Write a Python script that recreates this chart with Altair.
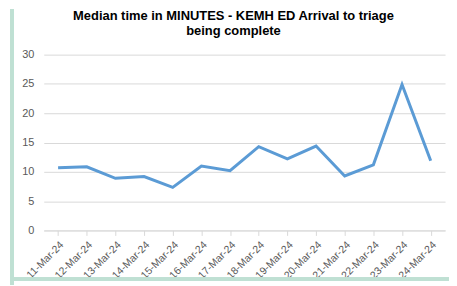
import altair as alt
import pandas as pd

dates = ["11-Mar-24", "12-Mar-24", "13-Mar-24", "14-Mar-24", "15-Mar-24", "16-Mar-24", "17-Mar-24",
         "18-Mar-24", "19-Mar-24", "20-Mar-24", "21-Mar-24", "22-Mar-24", "23-Mar-24", "24-Mar-24"]
minutes = [10.7, 10.85, 8.9, 9.2, 7.35, 11.0, 10.2, 14.3, 12.2, 14.4, 9.3, 11.2, 24.9, 11.9]
y_ticks = [0, 5, 10, 15, 20, 25, 30]
title_lines = ["Median time in MINUTES - KEMH ED Arrival to triage", "being complete"]

df = pd.DataFrame({"date": dates, "minutes": minutes})

W, H = 404, 177

line = alt.Chart(df).mark_line(color="#5B9BD5", strokeWidth=3).encode(
    x=alt.X("date:O", sort=None, title=None,
            scale=alt.Scale(paddingInner=0, paddingOuter=0),
            axis=alt.Axis(bandPosition=0, labelAngle=-45,
                          labelAlign="right", labelBaseline="top",
                          labelFont="Liberation Sans", labelFontSize=10.5, labelColor="#595959",
                          labelPadding=4, tickSize=5, tickColor="#d9d9d9",
                          domainColor="#d9d9d9", grid=False)),
    y=alt.Y("minutes:Q", title=None,
            scale=alt.Scale(domain=[0, 30], nice=False),
            axis=alt.Axis(values=y_ticks, ticks=False, domain=False, labelPadding=10,
                          labelFont="Liberation Sans", labelFontSize=11, labelColor="#595959",
                          gridColor="#d9d9d9", gridWidth=1)),
)

left_border = alt.Chart(df).mark_rule(color="#bfe0d3", strokeWidth=3).encode(
    x=alt.value(-32), y=alt.value(-46), y2=alt.value(278 - 46)
)
bottom_border = alt.Chart(df).mark_rule(color="#bfe0d3", strokeWidth=3).encode(
    x=alt.value(-33.5), x2=alt.value(W + 10), y=alt.value(226)
)

chart = alt.layer(line, left_border, bottom_border).properties(
    width=W, height=H,
    padding={"left": 36, "top": 46, "right": 4, "bottom": 55},
    autosize=alt.AutoSizeParams(type="none"),
    title=alt.TitleParams(title_lines, font="Liberation Sans", fontSize=13, fontWeight="bold",
                          color="#000000", anchor="middle", dx=-11, offset=-31, lineHeight=15),
).configure_view(stroke=None)

chart.save("out.html", embed_options={"renderer": "svg", "actions": False})
